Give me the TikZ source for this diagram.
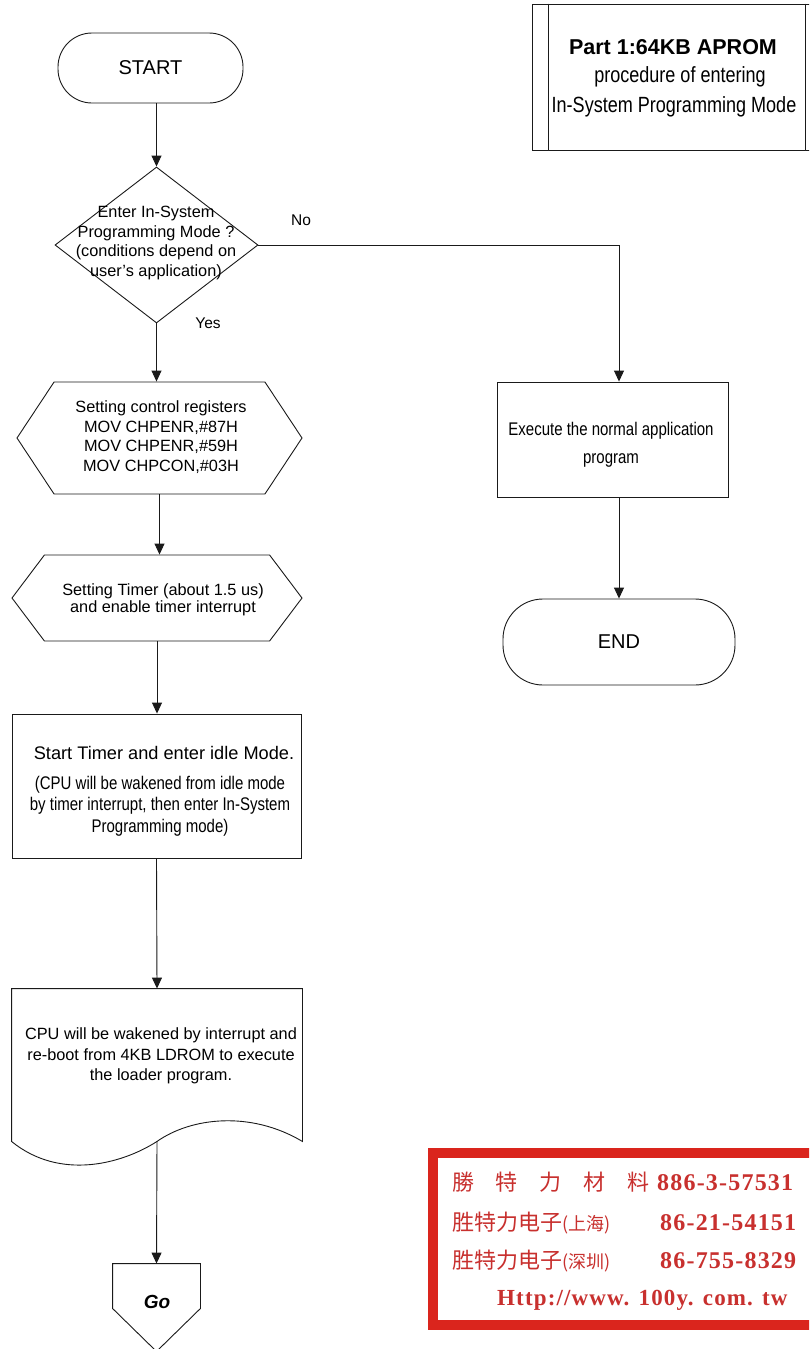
\documentclass[tikz,border=0pt]{standalone}
\usepackage{fontspec}
\setmainfont{Liberation Sans}
\newfontfamily\narrowfont[FakeStretch=0.82]{Liberation Sans}
\newfontfamily\cjkfont{Noto Sans CJK SC}
\newfontfamily\adlatin[LetterSpace=5]{Liberation Serif}
\usepackage{tikz}
\usetikzlibrary{shapes.geometric, shapes.symbols, arrows.meta, calc}
\definecolor{ink}{HTML}{1A1A1A}
\definecolor{adred}{HTML}{DA251D}
\definecolor{adtext}{HTML}{C8302E}
\tikzset{
  outl/.style    ={draw=ink, line width=0.9pt, fill=white},
  term/.style    ={outl, rectangle, inner sep=0pt},
  decision/.style={outl, diamond, inner sep=0pt},
  prep/.style    ={outl, signal, signal to=east and west, signal from=nowhere, inner sep=0pt},
  proc/.style    ={outl, rectangle, inner sep=0pt},
  txt/.style     ={font=\fontsize{16.3}{19.5}\selectfont, align=center, inner sep=0pt},
  ntxt/.style    ={font=\narrowfont\fontsize{18.3}{21.5}\selectfont, align=center, inner sep=0pt},
  lab/.style     ={font=\fontsize{15.5}{18}\selectfont, inner sep=0pt},
  flow/.style    ={-{Triangle[length=11pt,width=10pt]}, draw=ink, line width=0.9pt},
  adline/.style  ={anchor=base west, inner sep=0pt, text=adtext}
}

\begin{document}
\begin{tikzpicture}[x=1pt, y=-1pt]
  \fill[white] (0,0) rectangle (809,1349);
  \useasboundingbox (0,0) rectangle (809,1349);
  \clip (0,0) rectangle (809,1349);

  % main column
  \node[term, rounded corners=34pt, minimum width=185pt, minimum height=70pt] (start) at (150.5,68) {};
  \node[txt, font=\fontsize{20}{24}\selectfont] (startt) at (start.center) {START};
  \node[decision, minimum width=203pt, minimum height=156pt] (dec) at (156.5,245) {};
  \node[txt] (dect) at (156,243) {Enter In-System\\Programming Mode ?\\(conditions depend on\\user's application)};
  \node[prep, signal pointer angle=113, minimum width=285pt, minimum height=112pt] (hexa) at (159.5,438) {};
  \node[txt] (hexat) at (161,437) {Setting control registers\\MOV CHPENR,\#87H\\MOV CHPENR,\#59H\\MOV CHPCON,\#03H};
  \node[prep, signal pointer angle=106, minimum width=290pt, minimum height=86pt] (hexb) at (157,598) {};
  \node[txt, font=\fontsize{16.3}{17}\selectfont] (hexbt) at (163,600) {Setting Timer (about 1.5 us)\\and enable timer interrupt};
  \node[proc, minimum width=289pt, minimum height=144pt] (timer) at (156.5,786) {};
  \node[txt, font=\fontsize{18.2}{20}\selectfont] (timert) at (164,753) {Start Timer and enter idle Mode.};
  \node[ntxt] (timern) at (160,806) {(CPU will be wakened from idle mode\\by timer interrupt, then enter In-System\\Programming mode)};
  \node[proc, draw=none, fill=none, minimum width=290pt, minimum height=152pt] (doc) at (157,1065) {};
  \draw[outl] (doc.north west) -- (doc.north east) -- (doc.south east)
    .. controls +(-52,-31) and +(34,-24) .. (doc.south)
    .. controls +(-36,23) and +(48,39) .. (doc.south west) -- cycle;
  \node[txt, font=\fontsize{16.3}{20.5}\selectfont] (doct) at (161,1056) {CPU will be wakened by interrupt and\\re-boot from 4KB LDROM to execute\\the loader program.};
  \node[proc, draw=none, fill=none, minimum width=87pt, minimum height=44pt] (go) at (156.5,1286) {};
  \draw[outl] (go.north west) -- (go.north east) -- (go.south east)
    -- ($(go.south)+(0,43)$) -- (go.south west) -- cycle;
  \node[txt, font=\fontsize{19}{22}\selectfont\bfseries\itshape] (got) at (157,1302) {Go};

  % right column
  \node[proc, minimum width=231pt, minimum height=115pt] (exec) at (612.5,439.5) {};
  \node[ntxt, font=\narrowfont\fontsize{18.3}{28}\selectfont] (exect) at (611,445) {Execute the normal application\\program};
  \node[term, rounded corners=40pt, minimum width=232pt, minimum height=86pt] (endt) at (619,642) {};
  \node[txt, font=\fontsize{20}{24}\selectfont] (endtt) at (endt.center) {END};

  % title box
  \node[proc, minimum width=290pt, minimum height=146pt] (title) at (677,77) {};
  \draw[outl] ($(title.north west)+(17,0)$) -- ($(title.south west)+(17,0)$);
  \draw[outl] ($(title.north east)+(-17,0)$) -- ($(title.south east)+(-17,0)$);
  \node[txt, font=\fontsize{21.5}{24}\selectfont\bfseries] (title1) at (673,47) {Part 1:64KB APROM};
  \node[ntxt, font=\narrowfont\fontsize{22}{26}\selectfont] (title2) at (680,77) {procedure of entering};
  \node[ntxt, font=\narrowfont\fontsize{22}{26}\selectfont] (title3) at (674,107) {In-System Programming Mode};

  % labels
  \node[lab] (nolab) at (301,220) {No};
  \node[lab] (yeslab) at (208,323) {Yes};

  % connectors
  \draw[flow] (dec.north |- start.south) -- (dec.north);
  \draw[flow] (dec.south) -- (dec.south |- hexa.north);
  \draw[flow] (hexa.south) -- (hexa.south |- hexb.north);
  \draw[flow] (hexb.south) -- (hexb.south |- timer.north);
  \draw[flow] (timer.south) -- (doc.north);
  \draw[flow] (doc.south) -- (go.north);
  \draw[flow] (dec.east) -| (endt.north |- exec.north);
  \draw[flow] (endt.north |- exec.south) -- (endt.north);

  % stamp
  \node[draw=adred, line width=10pt, fill=white, minimum width=437pt, minimum height=172pt] (stamp) at (651.5,1239) {};
  \node[adline, font=\cjkfont\fontsize{22}{24}\selectfont] (ad1) at (452,1190)
    {\makebox[197pt][s]{勝\hfill 特\hfill 力\hfill 材\hfill 料}\hspace{8pt}{\adlatin\bfseries\fontsize{24}{26}\selectfont 886-3-57531}};
  \node[adline, font=\cjkfont\fontsize{22}{24}\selectfont] (ad2) at (452,1230)
    {胜特力电子\makebox[98pt][l]{\fontsize{18}{20}\selectfont(上海)}{\adlatin\bfseries\fontsize{24}{26}\selectfont 86-21-54151}};
  \node[adline, font=\cjkfont\fontsize{22}{24}\selectfont] (ad3) at (452,1268)
    {胜特力电子\makebox[98pt][l]{\fontsize{18}{20}\selectfont(深圳)}{\adlatin\bfseries\fontsize{24}{26}\selectfont 86-755-8329}};
  \node[adline, font=\adlatin\bfseries\fontsize{23}{26}\selectfont] (ad4) at (497,1305) {Http://www. 100y. com. tw};
\end{tikzpicture}
\end{document}
